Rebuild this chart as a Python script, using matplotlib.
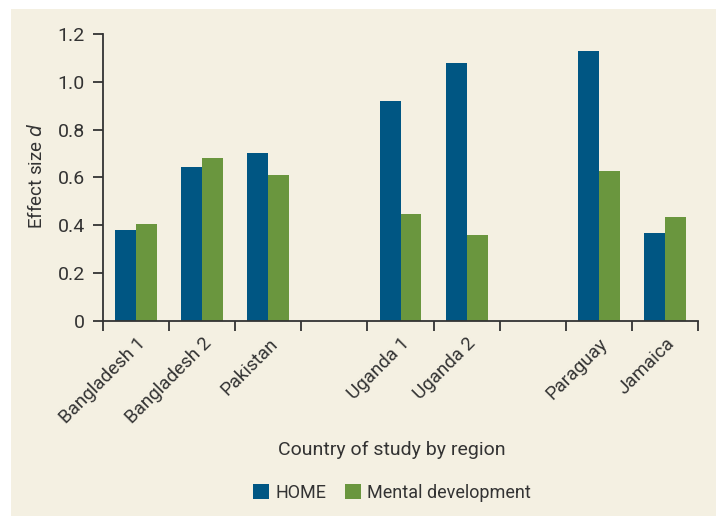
#!/usr/bin/env python3
"""Bar chart of HOME and mental development effect sizes by country of study."""

import numpy as np
import matplotlib
matplotlib.use('Agg')
import matplotlib.pyplot as plt
from matplotlib.patches import Rectangle

# Categories (empty slots separate the regions)
countries = ['Bangladesh 1', 'Bangladesh 2', 'Pakistan', '',
             'Uganda 1', 'Uganda 2', '', 'Paraguay', 'Jamaica']

# Effect sizes
home = [0.38, 0.645, 0.70, np.nan, 0.92, 1.08, np.nan, 1.13, 0.365]
mental = [0.405, 0.68, 0.61, np.nan, 0.445, 0.36, np.nan, 0.625, 0.435]

y_ticks = [0, 0.2, 0.4, 0.6, 0.8, 1.0, 1.2]
y_tick_labels = ['0', '0.2', '0.4', '0.6', '0.8', '1.0', '1.2']

blue = '#005683'
green = '#6a963e'
cream = '#f4f0e2'
text_col = '#333333'

plt.rcParams['font.family'] = ['Roboto', 'DejaVu Sans']

W, H = 716, 516
fig = plt.figure(figsize=(W / 100, H / 100), dpi=100, facecolor='white')

# Cream panel behind everything
fig.patches.append(Rectangle((11 / W, 0), 1 - 11 / W, (H - 9) / H,
                             transform=fig.transFigure, facecolor=cream,
                             edgecolor='none', zorder=-10))

ax = fig.add_axes([103 / W, (H - 320.7) / H, (698 - 103) / W, (320.7 - 34) / H])
ax.set_facecolor('none')

x = np.arange(len(countries))
w = 0.317
ax.bar(x - w / 2, home, width=w, color=blue, label='HOME', zorder=2)
ax.bar(x + w / 2, mental, width=w, color=green, label='Mental development', zorder=2)

ax.set_xlim(-0.5, len(countries) - 0.5)
ax.set_ylim(0, 1.2)

for side in ['top', 'right']:
    ax.spines[side].set_visible(False)
for side in ['left', 'bottom']:
    ax.spines[side].set_color('#333333')
    ax.spines[side].set_linewidth(1.3)

# Ticks on category boundaries, labels at category centres
ax.set_xticks(np.arange(len(countries) + 1) - 0.5)
ax.set_xticklabels([])
ax.set_xticks(x, minor=True)
ax.set_xticklabels(countries, minor=True, rotation=45, ha='right',
                   va='top', rotation_mode='anchor', fontsize=13.5, color=text_col)
ax.tick_params(axis='x', which='major', direction='out', length=7, width=1.3, color='#333333')
ax.tick_params(axis='x', which='minor', length=0, pad=10)

ax.set_yticks(y_ticks)
ax.set_yticklabels(y_tick_labels, fontsize=14, color=text_col)
ax.tick_params(axis='y', direction='out', length=7, width=1.3, color='#333333', pad=6)

fig.text(37 / W, 1 - 176 / H, 'Effect size $\\mathit{d}$', rotation=90,
         ha='center', va='center', fontsize=13.5, color=text_col)
fig.text(392 / W, 1 - 450 / H, 'Country of study by region',
         ha='center', va='center', fontsize=14, color=text_col)

fig.legend(loc='center', bbox_to_anchor=(392 / W, 1 - 493 / H), ncol=2,
           frameon=False, fontsize=13, handlelength=0.9, handleheight=0.9,
           handletextpad=0.35, columnspacing=1.0, labelcolor=text_col)

fig.savefig('out.png', dpi=100, facecolor='white')
